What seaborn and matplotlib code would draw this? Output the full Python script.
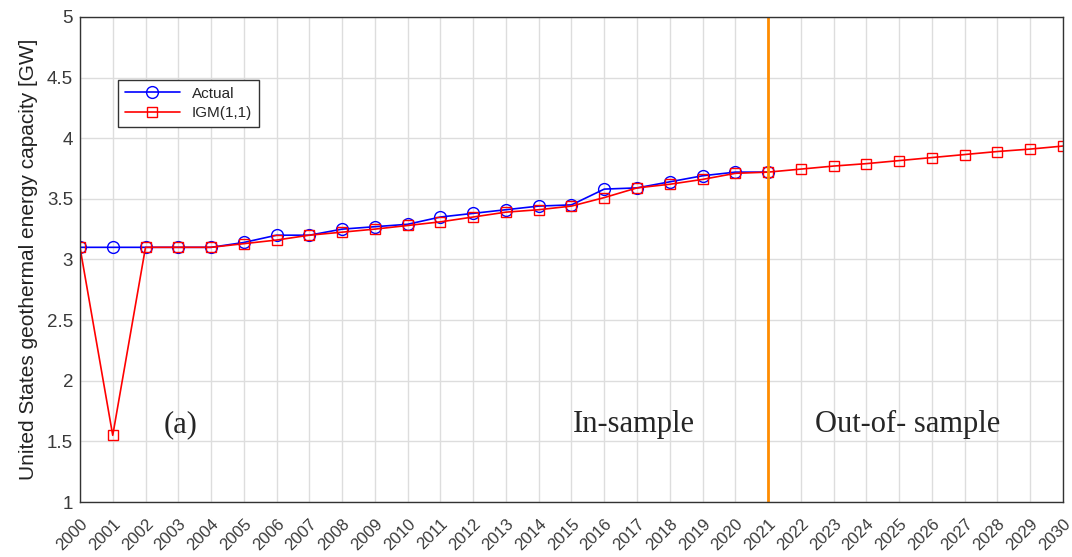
import seaborn as sns
import numpy as np
import pandas as pd
import matplotlib.pyplot as plt

years_actual = list(range(2000, 2022))
actual = [3.10, 3.10, 3.10, 3.10, 3.10, 3.14, 3.20, 3.20, 3.25, 3.27, 3.29,
          3.35, 3.38, 3.41, 3.44, 3.45, 3.58, 3.59, 3.64, 3.69, 3.72, 3.72]

years_igm = list(range(2000, 2031))
igm = [3.10, 1.55, 3.10, 3.10, 3.10, 3.13, 3.16, 3.20, 3.225, 3.25, 3.28,
       3.31, 3.35, 3.39, 3.41, 3.44, 3.51, 3.59, 3.62, 3.66, 3.71, 3.72,
       3.745, 3.77, 3.79, 3.815, 3.84, 3.865, 3.89, 3.91, 3.935]

df_a = pd.DataFrame({'year': years_actual, 'value': actual})
df_i = pd.DataFrame({'year': years_igm, 'value': igm})

sns.set_style('whitegrid')
plt.rcParams['font.family'] = ['Liberation Sans', 'DejaVu Sans']

fig = plt.figure(figsize=(10.72, 5.57), dpi=100)
ax = fig.add_axes([0.0746, 0.0987, 0.917, 0.871])

sns.lineplot(data=df_a, x='year', y='value', ax=ax, color='blue', lw=1.2,
             marker='o', markersize=8.5, mfc='none', mec='blue', mew=1.0,
             label='Actual')
sns.lineplot(data=df_i, x='year', y='value', ax=ax, color='red', lw=1.2,
             marker='s', markersize=7, mfc='none', mec='red', mew=1.0,
             label='IGM(1,1)')

ax.axvline(2021, color='#ff8c00', lw=2)

ax.set_xlim(2000, 2030)
ax.set_ylim(1, 5)
ax.set_xticks(years_igm)
ax.set_xticklabels([str(y) for y in years_igm], rotation=45, ha='right',
                   va='top', rotation_mode='anchor', fontsize=12, color='#3a3a3a')
ax.set_yticks(np.arange(1, 5.01, 0.5))
ax.set_yticklabels(['1', '1.5', '2', '2.5', '3', '3.5', '4', '4.5', '5'],
                   fontsize=13.5, color='#3a3a3a')
ax.set_xlabel('')
ax.set_ylabel('United States geothermal energy capacity [GW]', fontsize=15,
              color='#222222', labelpad=6)
ax.tick_params(axis='both', direction='in', length=4, color='#333333',
               top=False, right=False)
ax.tick_params(axis='y', pad=5)
ax.tick_params(axis='x', pad=10)
ax.grid(True, color='#dddddd', lw=1)
for s in ax.spines.values():
    s.set_color('#333333')
    s.set_linewidth(1)

serif = ['Liberation Serif', 'DejaVu Serif']
ax.text(2003.08, 1.64, '(a)', fontsize=22, family=serif, ha='center', va='center')
ax.text(2016.9, 1.64, 'In-sample', fontsize=22, family=serif, ha='center', va='center')
ax.text(2025.27, 1.64, 'Out-of- sample', fontsize=22, family=serif, ha='center', va='center')

leg = ax.legend(loc='upper left', bbox_to_anchor=(0.0387, 0.87), fontsize=11,
                fancybox=False, framealpha=1, edgecolor='#333333',
                borderpad=0.45, handlelength=3.6, labelspacing=0.35,
                borderaxespad=0)
leg.get_frame().set_linewidth(1)

fig.savefig('out.png', dpi=100)
